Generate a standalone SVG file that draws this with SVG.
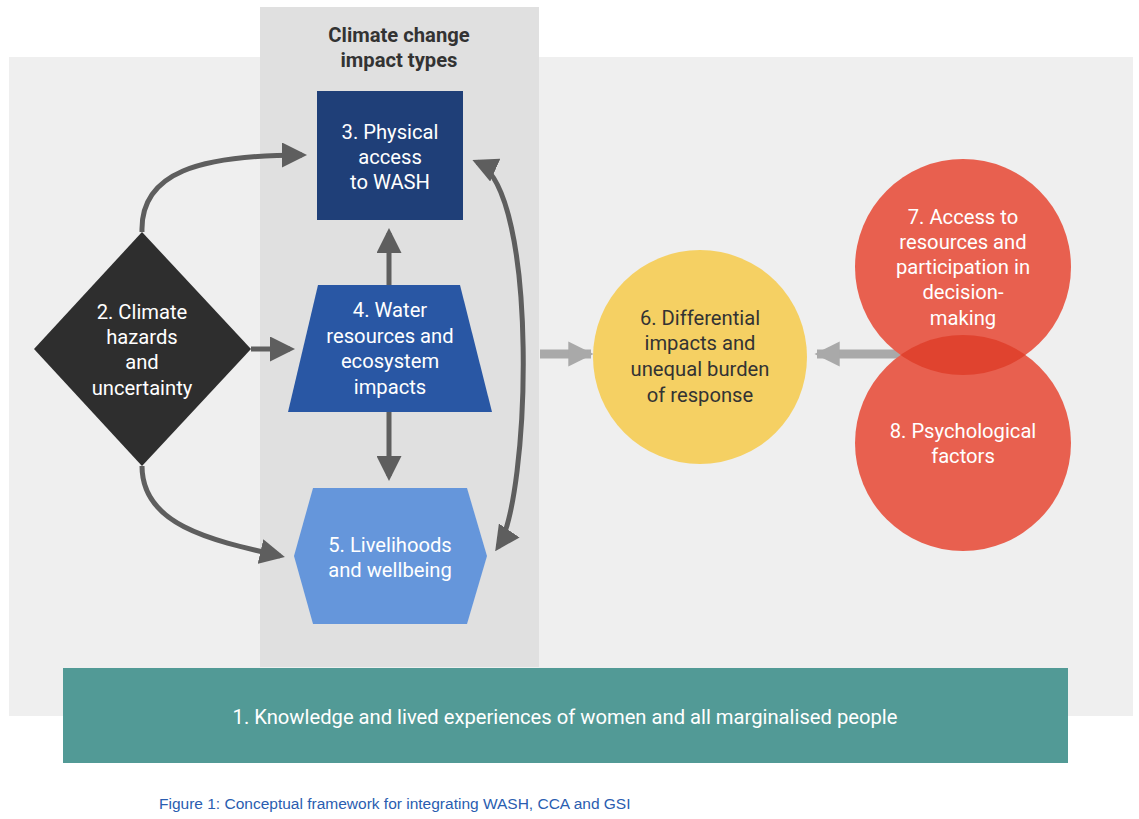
<svg xmlns="http://www.w3.org/2000/svg" width="1139" height="819" viewBox="0 0 1139 819">
<defs>
<style>
.t{font-family:Roboto,"Liberation Sans",sans-serif;font-size:20.2px;text-anchor:middle;fill:#ffffff}
.d{fill:#333333}
.c{fill:none;stroke:#5e5e5e;stroke-width:5}
.l{fill:none;stroke:#a9a9a9;stroke-width:9}
</style>
<marker id="ah" viewBox="0 0 10 10" refX="8" refY="5" markerWidth="5" markerHeight="5" orient="auto-start-reverse" markerUnits="strokeWidth">
<path d="M0,0 L10,5 L0,10 z" fill="#5e5e5e"/>
</marker>
<marker id="lh" viewBox="0 0 10 10" refX="9" refY="5" markerWidth="2.8" markerHeight="2.8" orient="auto" markerUnits="strokeWidth">
<path d="M0,0 L10,5 L0,10 z" fill="#a9a9a9"/>
</marker>
<clipPath id="c7"><circle cx="963" cy="267" r="108"/></clipPath>
</defs>
<rect width="1139" height="819" fill="#ffffff"/>
<rect x="9" y="57" width="1124" height="659" fill="#efefef"/>
<rect x="260" y="7" width="279" height="660" fill="#e0e0e0"/>
<text class="t d" x="399" y="42" font-weight="bold" font-size="21">Climate change</text>
<text class="t d" x="399" y="67" font-weight="bold" font-size="21">impact types</text>

<g id="connectors">
<path class="c" d="M142,232 C140,172 200,155 302,155" marker-end="url(#ah)"/>
<path class="c" d="M251,349 L290,349" marker-end="url(#ah)"/>
<path class="c" d="M142,466 C142,525 210,540 280,556" marker-end="url(#ah)"/>
<path class="c" d="M389,285 L389,233" marker-end="url(#ah)"/>
<path class="c" d="M389,412 L389,476" marker-end="url(#ah)"/>
<path class="c" d="M477,162 C540,190 530,500 498,547" marker-start="url(#ah)" marker-end="url(#ah)"/>
<path class="l" d="M540,354 L591,354" marker-end="url(#lh)"/>
<path class="l" d="M902,354 L817,354" marker-end="url(#lh)"/>
</g>

<g id="node3">
<rect x="317" y="91" width="146" height="129" fill="#1f3f78"/>
<text class="t" x="390" y="139">3. Physical</text>
<text class="t" x="390" y="164">access</text>
<text class="t" x="390" y="189">to WASH</text>
</g>
<g id="node4">
<polygon points="318,285 460,285 492,412 288,412" fill="#2957a4"/>
<text class="t" x="390" y="317">4. Water</text>
<text class="t" x="390" y="343">resources and</text>
<text class="t" x="390" y="368">ecosystem</text>
<text class="t" x="390" y="394">impacts</text>
</g>
<g id="node5">
<polygon points="313,488 467,488 487,556 467,624 313,624 294,556" fill="#6596db"/>
<text class="t" x="390" y="552">5. Livelihoods</text>
<text class="t" x="390" y="577">and wellbeing</text>
</g>
<g id="node2">
<polygon points="142,232 251,349 142,466 34,349" fill="#2e2e2e"/>
<text class="t" x="142" y="319">2. Climate</text>
<text class="t" x="142" y="344">hazards</text>
<text class="t" x="142" y="369">and</text>
<text class="t" x="142" y="395">uncertainty</text>
</g>
<g id="node6">
<circle cx="700" cy="357" r="107" fill="#f5d063"/>
<text class="t d" x="700" y="325">6. Differential</text>
<text class="t d" x="700" y="350">impacts and</text>
<text class="t d" x="700" y="376">unequal burden</text>
<text class="t d" x="700" y="402">of response</text>
</g>
<g id="node7">
<circle cx="963" cy="267" r="108" fill="#e8604f"/>
<text class="t" x="963" y="224">7. Access to</text>
<text class="t" x="963" y="249">resources and</text>
<text class="t" x="963" y="274">participation in</text>
<text class="t" x="963" y="299">decision-</text>
<text class="t" x="963" y="325">making</text>
</g>
<g id="node8">
<circle cx="963" cy="443" r="108" fill="#e8604f"/>
<circle cx="963" cy="443" r="108" fill="#e0432f" clip-path="url(#c7)"/>
<text class="t" x="963" y="438">8. Psychological</text>
<text class="t" x="963" y="463">factors</text>
</g>
<g id="node1">
<rect x="63" y="668" width="1005" height="95" fill="#529a96"/>
<text class="t" x="565" y="724">1. Knowledge and lived experiences of women and all marginalised people</text>
</g>
<text x="159" y="809" font-family="'Liberation Sans',Arial,sans-serif" font-size="15.5" fill="#2a5db0">Figure 1: Conceptual framework for integrating WASH, CCA and GSI</text>
</svg>
